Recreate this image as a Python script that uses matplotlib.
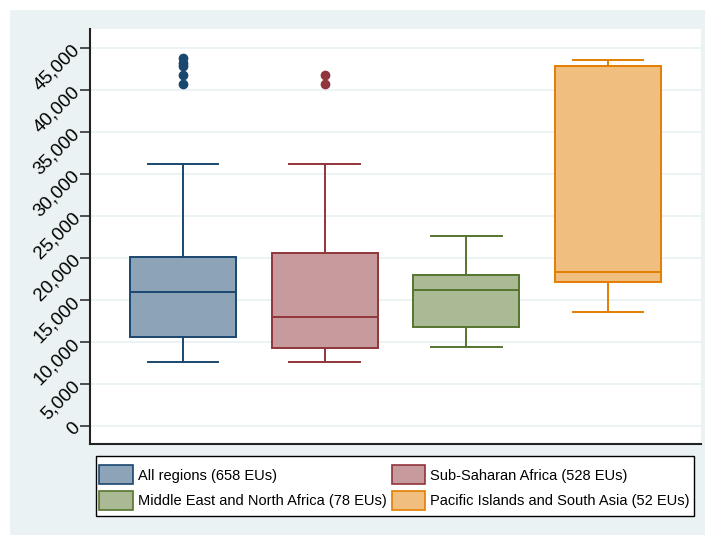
import matplotlib
matplotlib.use("Agg")
import matplotlib.pyplot as plt
from matplotlib.patches import Patch, Rectangle

plt.rcParams["font.family"] = ["Liberation Sans", "DejaVu Sans"]

# box statistics
regions = [
    "All regions (658 EUs)",
    "Sub-Saharan Africa (528 EUs)",
    "Middle East and North Africa (78 EUs)",
    "Pacific Islands and South Asia (52 EUs)",
]
whisker_low = [7540, 7540, 9320, 13570]
q1 = [10560, 9200, 11750, 17140]
median = [15870, 12890, 16110, 18300]
q3 = [20040, 20560, 17900, 42860]
whisker_high = [31190, 31190, 22620, 43570]
outliers = [
    [43770, 43180, 42860, 41730, 40710],
    [41790, 40710],
    [],
    [],
]
yticks = [0, 5000, 10000, 15000, 20000, 25000, 30000, 35000, 40000, 45000]

edge_colors = ["#1a476f", "#90353b", "#55752f", "#e37e00"]
fill_colors = ["#8da3b8", "#c79a9d", "#aaba94", "#f0be7e"]
bg = "#eaf2f3"

W, H = 705, 535
fig = plt.figure(figsize=(W / 100, H / 100), dpi=100)
fig.patch.set_facecolor("white")
fig.add_artist(Rectangle((10 / W, 0), 1, 1 - 10 / H, transform=fig.transFigure,
                         facecolor=bg, edgecolor="none", zorder=-10))

ax = fig.add_axes([90 / W, 91 / H, 611 / W, 415 / H])
ax.set_facecolor("white")

stats = []
for i in range(len(regions)):
    stats.append({
        "med": median[i], "q1": q1[i], "q3": q3[i],
        "whislo": whisker_low[i], "whishi": whisker_high[i],
        "fliers": outliers[i],
    })

pos = list(range(1, len(regions) + 1))
bp = ax.bxp(stats, positions=pos, widths=0.75, patch_artist=True,
            showfliers=True, capwidths=0.5)

for i, c in enumerate(edge_colors):
    bp["boxes"][i].set(facecolor=fill_colors[i], edgecolor=c, linewidth=1.4, zorder=3)
    bp["medians"][i].set(color=c, linewidth=1.4, zorder=4)
    for w in bp["whiskers"][2 * i:2 * i + 2]:
        w.set(color=c, linewidth=1.4, zorder=3)
    for cap in bp["caps"][2 * i:2 * i + 2]:
        cap.set(color=c, linewidth=1.4, zorder=3)
    bp["fliers"][i].set(marker="o", markerfacecolor=c, markeredgecolor=c,
                        markersize=6, zorder=4)

ax.set_xlim(1 - 0.656, 4 + 0.656)
ax.set_ylim(-2179, 47226)
ax.set_xticks([])
ax.set_yticks(yticks)
ax.set_yticklabels([f"{v:,}" for v in yticks], rotation=45, ha="right",
                   va="center", rotation_mode="anchor", fontsize=13.5)
ax.tick_params(axis="y", direction="out", length=7, width=1.2, color="#333333", pad=2)
ax.yaxis.grid(True, color=bg, linewidth=1.3, zorder=0)
ax.set_axisbelow(True)

for s in ["top", "right"]:
    ax.spines[s].set_visible(False)
for s in ["left", "bottom"]:
    ax.spines[s].set(color="#222222", linewidth=1.5)

# legend frame drawn separately so the padding can match the original
fig.add_artist(Rectangle((96 / W, 1 - 516 / H), 598 / W, 60 / H,
                         transform=fig.transFigure, facecolor="white",
                         edgecolor="black", linewidth=1.0, zorder=1))

handles = [Patch(facecolor=fill_colors[i], edgecolor=edge_colors[i], linewidth=1.2)
           for i in range(len(regions))]
# reorder so legend reads row-wise like the original
order = [0, 2, 1, 3]
leg = fig.legend([handles[i] for i in order], [regions[i] for i in order],
                 ncol=2, loc="center left",
                 bbox_to_anchor=(99 / W, 1 - 487.5 / H),
                 borderaxespad=0, borderpad=0, frameon=False,
                 fontsize=10.5, handlelength=2.3, handleheight=1.6,
                 handletextpad=0.35, columnspacing=0.35, labelspacing=0.45)
leg.set_zorder(2)

fig.savefig("out.png", dpi=100)
